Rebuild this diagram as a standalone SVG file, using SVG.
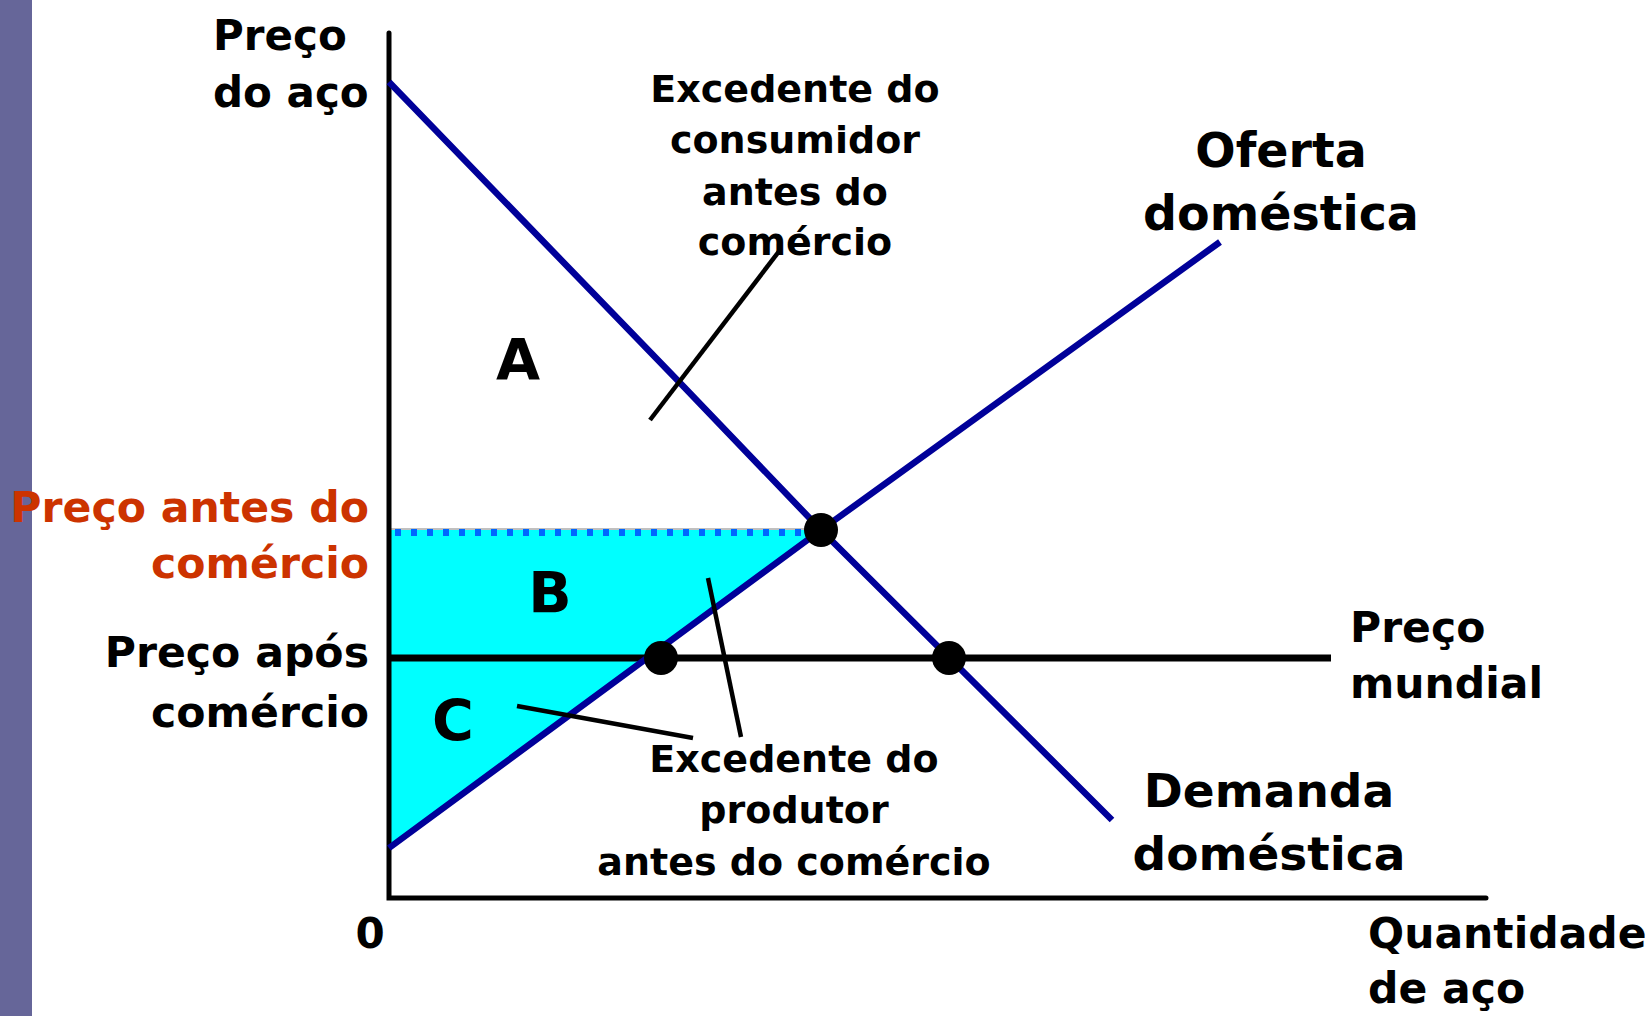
<svg xmlns="http://www.w3.org/2000/svg" width="1650" height="1016" viewBox="0 0 1650 1016">
<style>
text{font-family:"DejaVu Sans","Verdana",sans-serif;font-weight:bold;fill:#000}
.ax{stroke:#000;stroke-width:5;fill:none}
.curve{stroke:#000099;stroke-width:6.5;fill:none}
.call{stroke:#000;stroke-width:4.5;fill:none}
.dot{fill:#000}
.red{fill:#CC3300}
</style>
<rect x="0" y="0" width="1650" height="1016" fill="#fff"/>
<rect x="0" y="0" width="32" height="1016" fill="#666699"/>
<g id="area-bc">
<polygon points="389,530 821,530 389,848" fill="#00FFFF"/>
<line x1="389" y1="529" x2="821" y2="529" stroke="#808080" stroke-width="1"/>
<line x1="395" y1="532.5" x2="815" y2="532.5" stroke="#0066FF" stroke-width="7" stroke-dasharray="6 10"/>
</g>
<g id="axes">
<polyline class="ax" points="389,33 389,898 1486,898" stroke-linecap="round"/>
</g>
<g id="connectors">
<line x1="389" y1="658" x2="1331" y2="658" stroke="#000" stroke-width="7"/>
<polyline class="curve" points="389,82 684,387 821,530 1112,820"/>
<polyline class="curve" points="389,848 821,530 1220,242"/>
<line class="call" x1="650" y1="420" x2="780" y2="250"/>
<line class="call" x1="708" y1="578" x2="741" y2="737"/>
<line class="call" x1="517" y1="706" x2="693" y2="738"/>
</g>
<g id="dots">
<circle class="dot" cx="821" cy="530" r="17"/>
<circle class="dot" cx="661" cy="658" r="17"/>
<circle class="dot" cx="949" cy="658" r="17"/>
</g>
<g id="label-y-axis">
<text x="213" y="50" font-size="42">Preço</text>
<text x="213" y="107" font-size="42">do aço</text>
</g>
<g id="label-consumer">
<text x="795" y="102" font-size="38" text-anchor="middle">Excedente do</text>
<text x="795" y="153" font-size="38" text-anchor="middle">consumidor</text>
<text x="795" y="205" font-size="38" text-anchor="middle">antes do</text>
<text x="795" y="255" font-size="38" text-anchor="middle">comércio</text>
</g>
<g id="label-supply">
<text x="1281" y="167" font-size="47.5" text-anchor="middle">Oferta</text>
<text x="1281" y="230" font-size="47.5" text-anchor="middle">doméstica</text>
</g>
<g id="label-demand">
<text x="1269" y="807" font-size="47" text-anchor="middle">Demanda</text>
<text x="1269" y="870" font-size="47" text-anchor="middle">doméstica</text>
</g>
<g id="label-world">
<text x="1350" y="642" font-size="42.5">Preço</text>
<text x="1350" y="698" font-size="42.5">mundial</text>
</g>
<g id="label-x-axis">
<text x="1368" y="948" font-size="42.5">Quantidade</text>
<text x="1368" y="1003" font-size="42.5">de aço</text>
</g>
<g id="label-zero"><text x="370" y="948" font-size="42" text-anchor="middle">0</text></g>
<g id="label-before">
<text class="red" x="369" y="522" font-size="42.6" text-anchor="end">Preço antes do</text>
<text class="red" x="369" y="578" font-size="42.6" text-anchor="end">comércio</text>
</g>
<g id="label-after">
<text x="369" y="667" font-size="42.6" text-anchor="end">Preço após</text>
<text x="369" y="727" font-size="42.6" text-anchor="end">comércio</text>
</g>
<g id="label-A"><text x="518" y="380" font-size="57" text-anchor="middle">A</text></g>
<g id="label-B"><text x="550" y="613" font-size="57" text-anchor="middle">B</text></g>
<g id="label-C"><text x="453" y="741" font-size="57" text-anchor="middle">C</text></g>
<g id="label-producer">
<text x="794" y="772" font-size="38" text-anchor="middle">Excedente do</text>
<text x="794" y="823" font-size="38" text-anchor="middle">produtor</text>
<text x="794" y="875" font-size="38" text-anchor="middle">antes do comércio</text>
</g>
</svg>
